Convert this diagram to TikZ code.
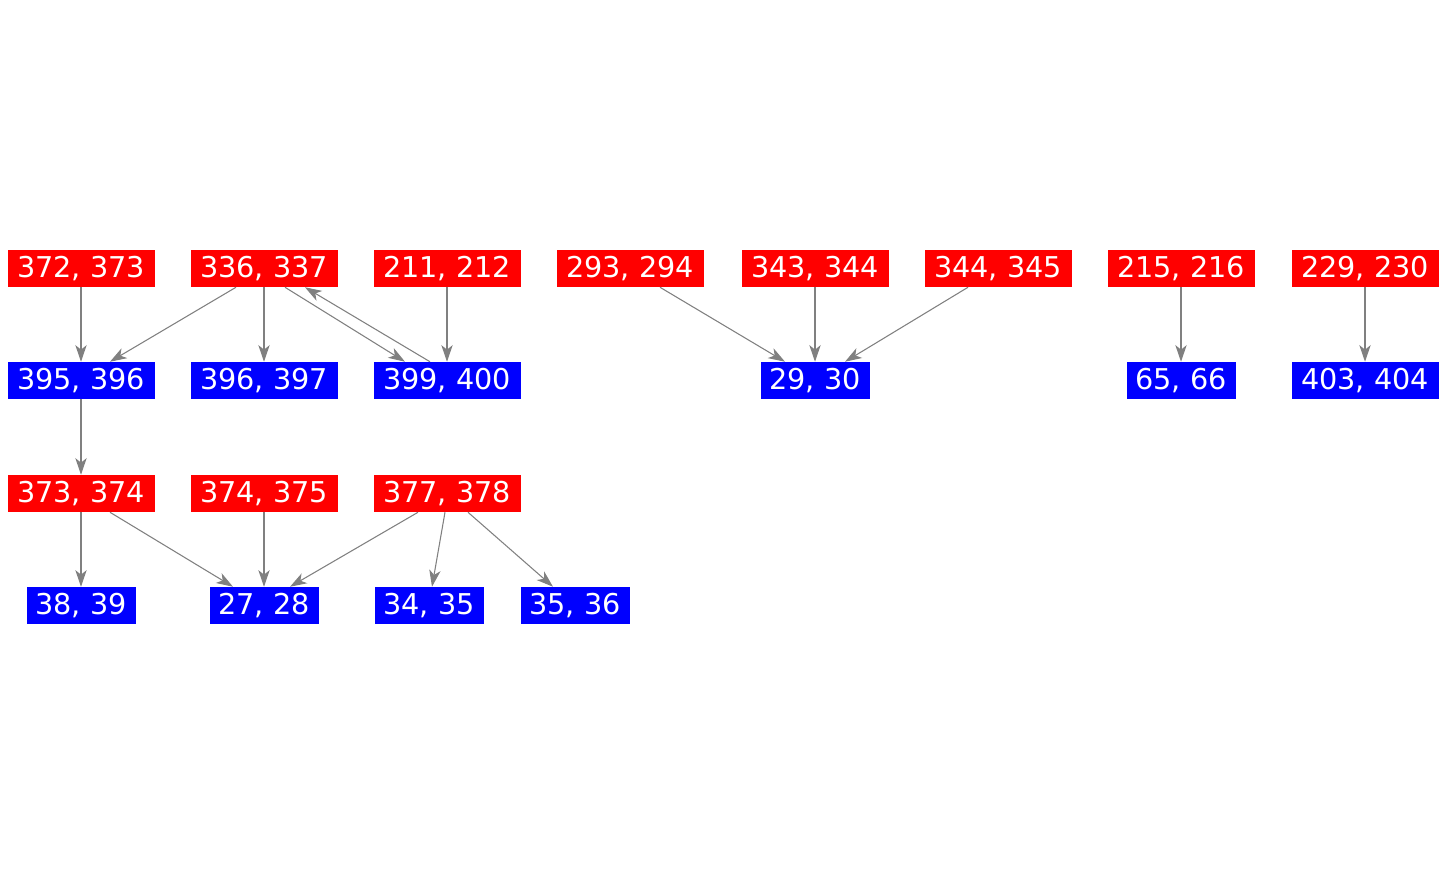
\documentclass[tikz,border=0pt]{standalone}
\usepackage{fontspec}
\setmainfont{DejaVu Sans}
\usetikzlibrary{arrows.meta,calc}
\definecolor{nred}{RGB}{255,0,0}
\definecolor{nblue}{RGB}{0,0,255}
\definecolor{egray}{RGB}{128,128,128}
\tikzset{
  rbox/.style={fill=nred,text=white,inner sep=0pt,minimum width=110.25pt,minimum height=27.75pt,font=\fontsize{21.5}{23}\selectfont},
  bbox/.style={fill=nblue,text=white,inner sep=0pt,minimum height=27.75pt,font=\fontsize{21.5}{23}\selectfont},
  wide/.style={minimum width=110.25pt},
  narrow/.style={minimum width=81.75pt},
  edge/.style={draw=egray,line width=0.8pt,-{Stealth[length=12.5pt,width=8.5pt,inset=3.5pt]}}
}
\begin{document}
\begin{tikzpicture}[x=0.75pt,y=-0.75pt]
\useasboundingbox (0,0) rectangle (1446,875);
% row 1
\node[rbox] (n372) at (81,268.5) {372, 373};
\node[rbox] (n336) at (264,268.5) {336, 337};
\node[rbox] (n211) at (447,268.5) {211, 212};
\node[rbox] (n293) at (630,268.5) {293, 294};
\node[rbox] (n343) at (815,268.5) {343, 344};
\node[rbox] (n344) at (998,268.5) {344, 345};
\node[rbox] (n215) at (1181,268.5) {215, 216};
\node[rbox] (n229) at (1365,268.5) {229, 230};
% row 2
\node[bbox,wide] (n395) at (81,380.5) {395, 396};
\node[bbox,wide] (n396) at (264,380.5) {396, 397};
\node[bbox,wide] (n399) at (447,380.5) {399, 400};
\node[bbox,narrow] (n29) at (815,380.5) {29, 30};
\node[bbox,narrow] (n65) at (1181,380.5) {65, 66};
\node[bbox,wide] (n403) at (1365,380.5) {403, 404};
% row 3
\node[rbox] (n373) at (81,493.5) {373, 374};
\node[rbox] (n374) at (264,493.5) {374, 375};
\node[rbox] (n377) at (447,493.5) {377, 378};
% row 4
\node[bbox,narrow] (n38) at (81,605.5) {38, 39};
\node[bbox,narrow] (n27) at (264,605.5) {27, 28};
\node[bbox,narrow] (n34) at (429,605.5) {34, 35};
\node[bbox,narrow] (n35) at (575,605.5) {35, 36};
% edges
\draw[edge] (n372.south) -- (n395.north);
\draw[edge] ($(n336.south)+(-28,0)$) -- ($(n395.north)+(29,0)$);
\draw[edge] (n336.south) -- (n396.north);
\draw[edge] ($(n336.south)+(21,0)$) -- ($(n399.north)+(-42,0)$);
\draw[edge] ($(n399.north)+(-17,0)$) -- ($(n336.south)+(41,0)$);
\draw[edge] (n211.south) -- (n399.north);
\draw[edge] (n395.south) -- (n373.north);
\draw[edge] (n373.south) -- (n38.north);
\draw[edge] ($(n373.south)+(29,0)$) -- ($(n27.north)+(-31,0)$);
\draw[edge] (n374.south) -- (n27.north);
\draw[edge] ($(n377.south)+(-29,0)$) -- ($(n27.north)+(26,0)$);
\draw[edge] ($(n377.south)+(-2,0)$) -- ($(n34.north)+(3,0)$);
\draw[edge] ($(n377.south)+(21,0)$) -- ($(n35.north)+(-22,0)$);
\draw[edge] ($(n293.south)+(30,0)$) -- ($(n29.north)+(-30,0)$);
\draw[edge] (n343.south) -- (n29.north);
\draw[edge] ($(n344.south)+(-30,0)$) -- ($(n29.north)+(30,0)$);
\draw[edge] (n215.south) -- (n65.north);
\draw[edge] (n229.south) -- (n403.north);
\end{tikzpicture}
\end{document}
